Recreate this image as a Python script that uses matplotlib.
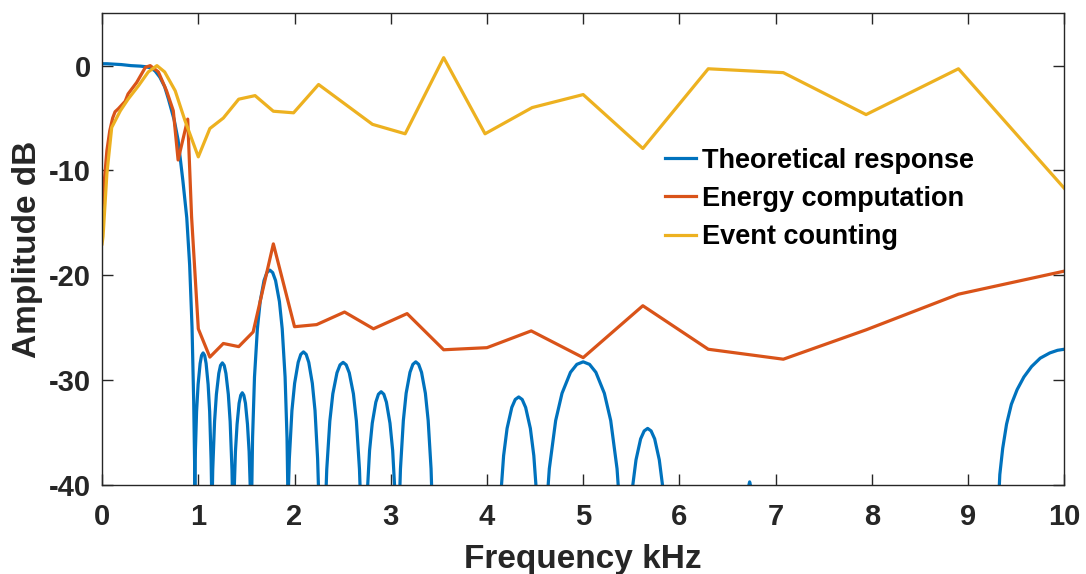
import matplotlib.pyplot as plt
import numpy as np

plt.rcParams['font.family'] = ['Liberation Sans', 'DejaVu Sans']
plt.rcParams['font.weight'] = 'bold'
plt.rcParams['axes.unicode_minus'] = False

# Event counting (yellow)
event_x = [0.0, 0.01, 0.05, 0.10, 0.19, 0.27, 0.38, 0.48, 0.57, 0.65, 0.76, 0.86, 1.00,
           1.12, 1.26, 1.42, 1.59, 1.78, 1.99, 2.25, 2.81, 3.15, 3.55, 3.98, 4.47, 5.00,
           5.62, 6.30, 7.08, 7.94, 8.90, 10.0]
event_y = [-17.0, -16.3, -10.3, -5.9, -4.3, -3.2, -1.9, -0.6, 0.0, -0.6, -2.4, -5.2, -8.7,
           -6.0, -5.0, -3.2, -2.86, -4.35, -4.5, -1.8, -5.6, -6.5, 0.76, -6.5, -4.0, -2.76,
           -7.9, -0.3, -0.67, -4.67, -0.3, -11.7]

# Energy computation (orange)
energy_x = [0.0, 0.05, 0.08, 0.11, 0.135, 0.17, 0.2, 0.24, 0.27, 0.36, 0.45, 0.5, 0.585,
            0.67, 0.74, 0.79, 0.89, 0.93, 1.00, 1.12, 1.26, 1.42, 1.57, 1.78, 2.00, 2.23,
            2.52, 2.82, 3.17, 3.55, 4.00, 4.46, 5.00, 5.62, 6.30, 7.08, 7.94, 8.90, 10.0]
energy_y = [-13.5, -8.1, -6.2, -5.0, -4.4, -4.1, -3.8, -3.4, -2.7, -1.6, -0.16, 0.0, -0.6,
            -2.4, -4.3, -9.0, -5.1, -14.4, -25.1, -27.8, -26.5, -26.8, -25.4, -17.0, -24.9, -24.7,
            -23.5, -25.1, -23.65, -27.1, -26.9, -25.3, -27.85, -22.9, -27.05, -28.0, -25.2, -21.8, -19.6]

# Theoretical response (blue): main lobe, then side lobes read one by one
main_x = [0.0, 0.05, 0.1, 0.2, 0.3, 0.4, 0.45, 0.5, 0.55, 0.6, 0.65, 0.69, 0.75, 0.79,
          0.84, 0.88, 0.91, 0.935, 0.952, 0.965, 0.975]
main_y = [0.18, 0.18, 0.15, 0.1, 0.0, -0.05, -0.1, -0.2, -0.5, -1.1, -2.0, -3.2, -5.2, -7.1,
          -11.0, -14.5, -19.0, -25.0, -32.0, -40.0, -50.0]
lobes = [
    ([0.946, 0.956, 0.967, 0.982, 0.998, 1.019, 1.034, 1.050, 1.066, 1.081, 1.102, 1.118,
      1.133, 1.144, 1.154],
     [-50, -43.4, -37.6, -33.0, -30.4, -28.4, -27.64, -27.4, -27.64, -28.4, -30.4, -33.0,
      -37.6, -43.4, -50]),
    ([1.125, 1.138, 1.150, 1.169, 1.188, 1.213, 1.231, 1.250, 1.269, 1.287, 1.312, 1.331,
      1.350, 1.362, 1.375],
     [-50, -44.35, -38.55, -33.95, -31.35, -29.35, -28.59, -28.35, -28.59, -29.35, -31.35,
      -33.95, -38.55, -44.35, -50]),
    ([1.348, 1.359, 1.370, 1.386, 1.403, 1.424, 1.441, 1.457, 1.473, 1.490, 1.511, 1.528,
      1.544, 1.555, 1.566],
     [-55, -47.2, -41.4, -36.8, -34.2, -32.2, -31.44, -31.2, -31.44, -32.2, -34.2, -36.8,
      -41.4, -47.2, -55]),
    ([1.544, 1.554, 1.564, 1.584, 1.614, 1.643, 1.683, 1.713, 1.743, 1.773, 1.803, 1.843,
      1.872, 1.902, 1.922, 1.932, 1.942],
     [-50, -41.5, -35.5, -29.7, -25.1, -22.5, -20.5, -19.74, -19.5, -19.74, -20.5, -22.5,
      -25.1, -29.7, -35.5, -41.5, -50]),
    ([1.909, 1.927, 1.946, 1.973, 2.001, 2.038, 2.065, 2.093, 2.121, 2.148, 2.185, 2.213,
      2.240, 2.259, 2.277],
     [-50, -43.3, -37.5, -32.9, -30.3, -28.3, -27.54, -27.3, -27.54, -28.3, -30.3, -32.9,
      -37.5, -43.3, -50]),
    ([2.292, 2.313, 2.335, 2.367, 2.398, 2.441, 2.473, 2.505, 2.537, 2.569, 2.612, 2.643,
      2.675, 2.697, 2.718],
     [-50, -44.3, -38.5, -33.9, -31.3, -29.3, -28.54, -28.3, -28.54, -29.3, -31.3, -33.9,
      -38.5, -44.3, -50]),
    ([2.716, 2.734, 2.753, 2.780, 2.808, 2.845, 2.872, 2.900, 2.928, 2.955, 2.992, 3.020,
      3.047, 3.066, 3.084],
     [-55, -47.1, -41.3, -36.7, -34.1, -32.1, -31.34, -31.1, -31.34, -32.1, -34.1, -36.7,
      -41.3, -47.1, -55]),
    ([3.061, 3.081, 3.101, 3.131, 3.160, 3.200, 3.230, 3.260, 3.290, 3.320, 3.360, 3.389,
      3.419, 3.439, 3.459],
     [-50, -44.25, -38.45, -33.85, -31.25, -29.25, -28.49, -28.25, -28.49, -29.25, -31.25,
      -33.85, -38.45, -44.25, -50]),
    ([4.089, 4.113, 4.137, 4.173, 4.209, 4.258, 4.294, 4.330, 4.366, 4.402, 4.451, 4.487,
      4.523, 4.547, 4.571],
     [-55, -47.6, -41.8, -37.2, -34.6, -32.6, -31.84, -31.6, -31.84, -32.6, -34.6, -37.2,
      -41.8, -47.6, -55]),
    ([4.560, 4.604, 4.648, 4.714, 4.780, 4.868, 4.934, 5.000, 5.066, 5.132, 5.220, 5.286,
      5.352, 5.396, 5.440],
     [-50, -44.25, -38.45, -33.85, -31.25, -29.25, -28.49, -28.25, -28.49, -29.25, -31.25,
      -33.85, -38.45, -44.25, -50]),
    ([5.428, 5.452, 5.476, 5.513, 5.549, 5.597, 5.634, 5.670, 5.706, 5.743, 5.791, 5.827,
      5.864, 5.888, 5.912],
     [-60, -50.6, -44.8, -40.2, -37.6, -35.6, -34.84, -34.6, -34.84, -35.6, -37.6, -40.2,
      -44.8, -50.6, -60]),
    ([6.700, 6.715, 6.730, 6.745, 6.760],
     [-42, -40.3, -39.7, -40.3, -42]),
    ([9.300, 9.315, 9.330, 9.360, 9.400, 9.450, 9.510, 9.580, 9.660, 9.750, 9.850, 9.930, 10.0],
     [-50, -42, -39, -36.5, -34.2, -32.3, -30.9, -29.7, -28.7, -27.9, -27.4, -27.15, -27.05]),
]

theory_x = list(main_x)
theory_y = list(main_y)
for lx, ly in lobes:
    theory_x += [np.nan] + lx
    theory_y += [np.nan] + ly

fig = plt.figure(figsize=(10.86, 5.74), dpi=100)
ax = fig.add_axes([0.094, 0.155, 0.886, 0.822])

ax.plot(theory_x, theory_y, color='#0072BD', lw=2.3, label='Theoretical response')
ax.plot(energy_x, energy_y, color='#D95319', lw=2.3, label='Energy computation')
ax.plot(event_x, event_y, color='#EDB120', lw=2.3, label='Event counting')

ax.set_xlim(0, 10)
ax.set_ylim(-40, 5)
ax.set_xticks(range(0, 11))
ax.set_yticks([-40, -30, -20, -10, 0])
ax.tick_params(direction='in', length=8, width=1, top=True, right=True,
               labelsize=21, colors='#262626')
ax.tick_params(axis='x', pad=13)
ax.tick_params(axis='y', pad=8)
for lbl in ax.get_xticklabels() + ax.get_yticklabels():
    lbl.set_fontweight('bold')
for sp in ax.spines.values():
    sp.set_color('#262626')
    sp.set_linewidth(1)

ax.set_xlabel('Frequency kHz', fontsize=24, fontweight='bold', color='#262626', labelpad=9)
ax.set_ylabel('Amplitude dB', fontsize=24, fontweight='bold', color='#262626', labelpad=4)

ax.legend(loc='upper left', bbox_to_anchor=(0.585, 0.715), frameon=False,
          fontsize=19.5, handlelength=1.15, handletextpad=0.2, labelspacing=0.45,
          borderaxespad=0, borderpad=0)

fig.savefig('out.png', dpi=100)
